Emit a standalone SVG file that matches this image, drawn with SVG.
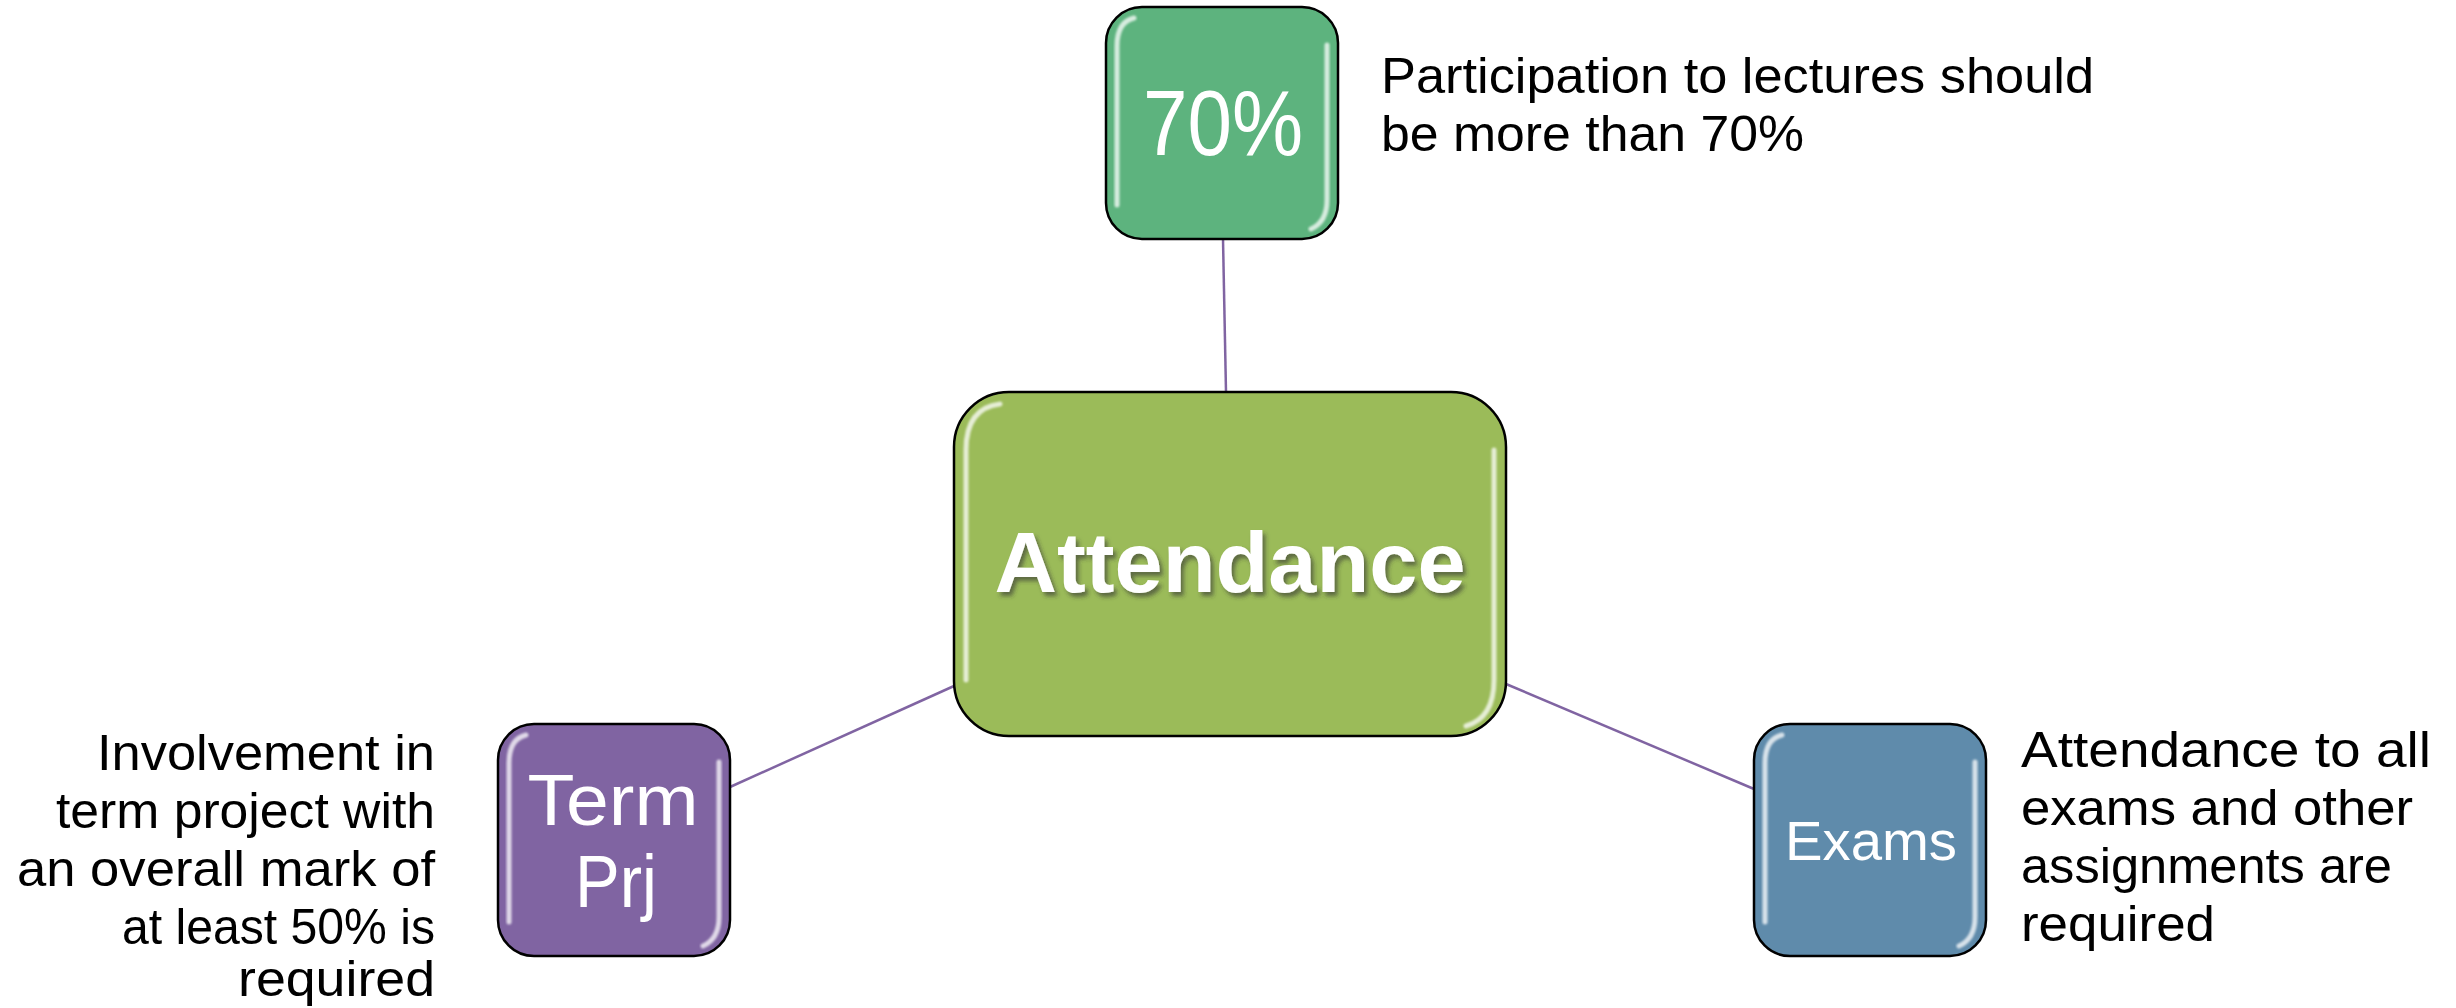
<svg xmlns="http://www.w3.org/2000/svg" width="2456" height="1008" viewBox="0 0 2456 1008">
<defs>
<filter id="shadow" x="-10%" y="-20%" width="120%" height="150%">
<feDropShadow dx="3" dy="4" stdDeviation="2" flood-color="#333" flood-opacity="0.6"/>
</filter>
<filter id="soft" x="-20%" y="-20%" width="140%" height="140%">
<feGaussianBlur stdDeviation="1.2"/>
</filter>
</defs>
<style>
.box{stroke:#000;stroke-width:2.5}
.hl{fill:none;stroke:#fff;stroke-opacity:0.75;stroke-width:5;stroke-linecap:round;filter:url(#soft)}
.lbl{font-family:"Liberation Sans",Arial,sans-serif;fill:#fff}
.desc{font-family:"Liberation Sans",Arial,sans-serif;fill:#000;font-size:50px}
.conn{stroke:#8064a2;stroke-width:2.5;fill:none}
</style>
<rect width="2456" height="1008" fill="#fff"/>
<g id="connectors">
<line class="conn" x1="1223" y1="239" x2="1226" y2="392"/>
<line class="conn" x1="954" y1="686" x2="730" y2="787"/>
<line class="conn" x1="1506" y1="684" x2="1754" y2="789"/>
</g>
<g id="node-center">
<rect class="box" x="954" y="392" width="552" height="344" rx="55" fill="#9bbb59"/>
<path class="hl" d="M1000,404 Q966,408 966,450 L966,680"/>
<path class="hl" d="M1494,450 L1494,680 Q1494,718 1466,726"/>
<text class="lbl" x="1230" y="592" font-size="86" font-weight="bold" text-anchor="middle" textLength="471" lengthAdjust="spacingAndGlyphs" filter="url(#shadow)">Attendance</text>
</g>
<g id="node-70">
<rect class="box" x="1106" y="7" width="232" height="232" rx="36" fill="#5db37e"/>
<path class="hl" d="M1134,18 Q1117,22 1117,46 L1117,205"/>
<path class="hl" d="M1327,45 L1327,200 Q1327,222 1311,229"/>
<text class="lbl" x="1223" y="155" font-size="92" text-anchor="middle" textLength="160" lengthAdjust="spacingAndGlyphs">70%</text>
</g>
<g id="node-term">
<rect class="box" x="498" y="724" width="232" height="232" rx="36" fill="#8064a2"/>
<path class="hl" d="M526,735 Q509,739 509,763 L509,922"/>
<path class="hl" d="M719,762 L719,917 Q719,939 703,946"/>
<text class="lbl" x="613" y="825" font-size="72" text-anchor="middle" textLength="171" lengthAdjust="spacingAndGlyphs">Term</text>
<text class="lbl" x="616" y="907" font-size="74" text-anchor="middle" textLength="82" lengthAdjust="spacingAndGlyphs">Prj</text>
</g>
<g id="node-exams">
<rect class="box" x="1754" y="724" width="232" height="232" rx="36" fill="#5f8bab"/>
<path class="hl" d="M1782,735 Q1765,739 1765,763 L1765,922"/>
<path class="hl" d="M1975,762 L1975,917 Q1975,939 1959,946"/>
<text class="lbl" x="1871" y="860" font-size="55" text-anchor="middle" textLength="172" lengthAdjust="spacingAndGlyphs">Exams</text>
</g>
<g id="text-top">
<text class="desc" x="1381" y="93" font-size="52" textLength="713" lengthAdjust="spacingAndGlyphs">Participation to lectures should</text>
<text class="desc" x="1381" y="151" font-size="52" textLength="423" lengthAdjust="spacingAndGlyphs">be more than 70%</text>
</g>
<g id="text-left" text-anchor="end">
<text class="desc" x="435" y="770" textLength="338" lengthAdjust="spacingAndGlyphs">Involvement in</text>
<text class="desc" x="435" y="828" textLength="379" lengthAdjust="spacingAndGlyphs">term project with</text>
<text class="desc" x="435" y="886" textLength="418" lengthAdjust="spacingAndGlyphs">an overall mark of</text>
<text class="desc" x="435" y="944" textLength="313" lengthAdjust="spacingAndGlyphs">at least 50% is</text>
<text class="desc" x="435" y="996" textLength="197" lengthAdjust="spacingAndGlyphs">required</text>
</g>
<g id="text-right">
<text class="desc" x="2021" y="767" textLength="410" lengthAdjust="spacingAndGlyphs">Attendance to all</text>
<text class="desc" x="2021" y="825" textLength="392" lengthAdjust="spacingAndGlyphs">exams and other</text>
<text class="desc" x="2021" y="883" textLength="371" lengthAdjust="spacingAndGlyphs">assignments are</text>
<text class="desc" x="2021" y="941" textLength="194" lengthAdjust="spacingAndGlyphs">required</text>
</g>
</svg>
